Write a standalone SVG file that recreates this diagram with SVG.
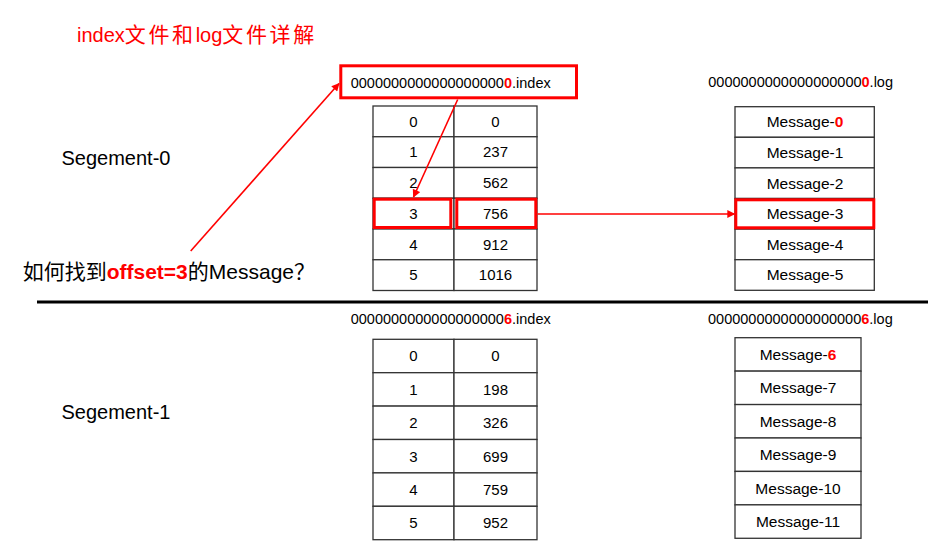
<svg xmlns="http://www.w3.org/2000/svg" width="949" height="552" viewBox="0 0 949 552">
<style>
text{font-family:"Liberation Sans","Noto Sans CJK SC",sans-serif;fill:#000}
.cell{fill:#fff;stroke:#333;stroke-width:1.3}
.hl{fill:none;stroke:#f00;stroke-width:3}
.num{font-size:15px;text-anchor:middle}
.msg{font-size:15.5px;text-anchor:middle}
.fn{font-size:14.5px}
.r{fill:#f00;font-weight:bold}
.seg{font-size:20px}
.cjk{font-size:21px;letter-spacing:2.6px}
.conn{stroke:#f00;stroke-width:1.6;fill:none;marker-end:url(#ah)}
</style>
<defs>
<marker id="ah" viewBox="0 0 10 10" refX="9" refY="5" markerWidth="9" markerHeight="8" markerUnits="userSpaceOnUse" orient="auto">
<path d="M0,0 L10,5 L0,10 z" fill="#f00"/>
</marker>
</defs>
<rect width="949" height="552" fill="#fff"/>

<g id="title">
<text x="77" y="42" font-size="20" style="fill:#f00">index<tspan class="cjk" style="fill:#f00">文件和</tspan>log<tspan class="cjk" style="fill:#f00">文件详解</tspan></text>
</g>

<g id="segment0-label"><text class="seg" x="61.5" y="165">Segement-0</text></g>
<g id="segment1-label"><text class="seg" x="61.5" y="419">Segement-1</text></g>

<g id="question">
<text x="22.7" y="279" font-size="21">如何找到<tspan class="r">offset=3</tspan>的Message？</text>
</g>

<g id="separator"><line x1="37" y1="302" x2="928" y2="302" stroke="#000" stroke-width="3"/></g>

<g id="index0-file">
<rect class="hl" x="340.8" y="65.8" width="235.7" height="32"/>
<text class="fn" x="350.7" y="88">0000000000000000000<tspan class="r">0</tspan>.index</text>
</g>

<g id="index0-table">
<rect class="cell" x="373" y="106" width="81" height="30.75"/><rect class="cell" x="454" y="106" width="83" height="30.75"/>
<rect class="cell" x="373" y="136.75" width="81" height="30.75"/><rect class="cell" x="454" y="136.75" width="83" height="30.75"/>
<rect class="cell" x="373" y="167.5" width="81" height="30.75"/><rect class="cell" x="454" y="167.5" width="83" height="30.75"/>
<rect class="cell" x="373" y="198.25" width="81" height="30.75"/><rect class="cell" x="454" y="198.25" width="83" height="30.75"/>
<rect class="cell" x="373" y="229" width="81" height="30.75"/><rect class="cell" x="454" y="229" width="83" height="30.75"/>
<rect class="cell" x="373" y="259.75" width="81" height="30.75"/><rect class="cell" x="454" y="259.75" width="83" height="30.75"/>
<text class="num" x="413.3" y="126.6">0</text><text class="num" x="495.5" y="126.6">0</text>
<text class="num" x="413.3" y="157.4">1</text><text class="num" x="495.5" y="157.4">237</text>
<text class="num" x="413.3" y="188.2">2</text><text class="num" x="495.5" y="188.2">562</text>
<text class="num" x="413.3" y="218.9">3</text><text class="num" x="495.5" y="218.9">756</text>
<text class="num" x="413.3" y="249.7">4</text><text class="num" x="495.5" y="249.7">912</text>
<text class="num" x="413.3" y="280.4">5</text><text class="num" x="495.5" y="280.4">1016</text>
<rect class="hl" x="374.2" y="199.2" width="76.6" height="28.3"/>
<rect class="hl" x="456.8" y="199.2" width="79" height="28.3"/>
</g>

<g id="log0-file">
<text class="fn" x="708.3" y="86.5">0000000000000000000<tspan class="r">0</tspan>.log</text>
</g>

<g id="log0-table">
<rect class="cell" x="735" y="106.7" width="139.3" height="30.6"/>
<rect class="cell" x="735" y="137.3" width="139.3" height="30.6"/>
<rect class="cell" x="735" y="167.9" width="139.3" height="30.6"/>
<rect class="cell" x="735" y="198.5" width="139.3" height="30.6"/>
<rect class="cell" x="735" y="229.1" width="139.3" height="30.6"/>
<rect class="cell" x="735" y="259.7" width="139.3" height="30.6"/>
<text class="msg" x="805" y="127.3">Message-<tspan class="r">0</tspan></text>
<text class="msg" x="805" y="157.9">Message-1</text>
<text class="msg" x="805" y="188.5">Message-2</text>
<text class="msg" x="805" y="219.1">Message-3</text>
<text class="msg" x="805" y="249.7">Message-4</text>
<text class="msg" x="805" y="280.3">Message-5</text>
<rect class="hl" x="735.8" y="199.8" width="138" height="28"/>
</g>

<g id="index6-file">
<text class="fn" x="350.7" y="324">0000000000000000000<tspan class="r">6</tspan>.index</text>
</g>

<g id="index6-table">
<rect class="cell" x="373" y="339.3" width="81" height="33.4"/><rect class="cell" x="454" y="339.3" width="83" height="33.4"/>
<rect class="cell" x="373" y="372.7" width="81" height="33.4"/><rect class="cell" x="454" y="372.7" width="83" height="33.4"/>
<rect class="cell" x="373" y="406.1" width="81" height="33.4"/><rect class="cell" x="454" y="406.1" width="83" height="33.4"/>
<rect class="cell" x="373" y="439.5" width="81" height="33.4"/><rect class="cell" x="454" y="439.5" width="83" height="33.4"/>
<rect class="cell" x="373" y="472.9" width="81" height="33.4"/><rect class="cell" x="454" y="472.9" width="83" height="33.4"/>
<rect class="cell" x="373" y="506.3" width="81" height="33.4"/><rect class="cell" x="454" y="506.3" width="83" height="33.4"/>
<text class="num" x="413.3" y="361.3">0</text><text class="num" x="495.5" y="361.3">0</text>
<text class="num" x="413.3" y="394.7">1</text><text class="num" x="495.5" y="394.7">198</text>
<text class="num" x="413.3" y="428.1">2</text><text class="num" x="495.5" y="428.1">326</text>
<text class="num" x="413.3" y="461.5">3</text><text class="num" x="495.5" y="461.5">699</text>
<text class="num" x="413.3" y="494.9">4</text><text class="num" x="495.5" y="494.9">759</text>
<text class="num" x="413.3" y="528.3">5</text><text class="num" x="495.5" y="528.3">952</text>
</g>

<g id="log6-file">
<text class="fn" x="708" y="324">0000000000000000000<tspan class="r">6</tspan>.log</text>
</g>

<g id="log6-table">
<rect class="cell" x="735" y="337.7" width="126" height="33.43"/>
<rect class="cell" x="735" y="371.13" width="126" height="33.43"/>
<rect class="cell" x="735" y="404.56" width="126" height="33.43"/>
<rect class="cell" x="735" y="437.99" width="126" height="33.43"/>
<rect class="cell" x="735" y="471.42" width="126" height="33.43"/>
<rect class="cell" x="735" y="504.85" width="126" height="33.43"/>
<text class="msg" x="798" y="359.8">Message-<tspan class="r">6</tspan></text>
<text class="msg" x="798" y="393.2">Message-7</text>
<text class="msg" x="798" y="426.6">Message-8</text>
<text class="msg" x="798" y="460">Message-9</text>
<text class="msg" x="798" y="493.5">Message-10</text>
<text class="msg" x="798" y="526.9">Message-11</text>
</g>

<g id="connectors">
<line class="conn" x1="190.7" y1="251" x2="339" y2="83.5"/>
<line class="conn" x1="457.7" y1="99.5" x2="413.5" y2="197"/>
<line class="conn" x1="537.5" y1="214" x2="734.5" y2="214"/>
</g>
</svg>
